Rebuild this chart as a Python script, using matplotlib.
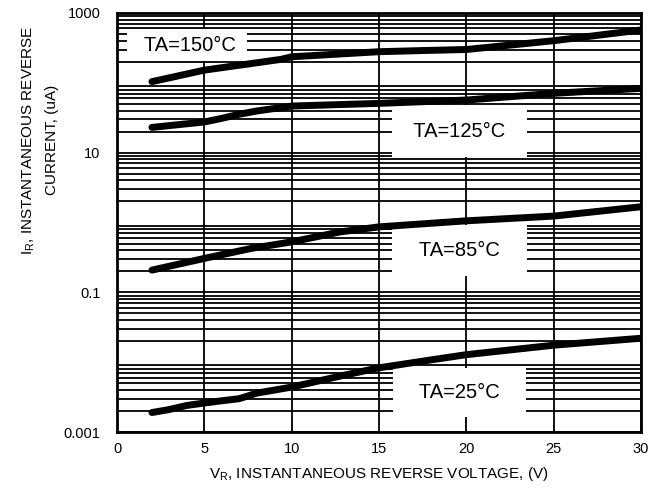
import matplotlib
matplotlib.use("Agg")
import matplotlib.pyplot as plt

plt.rcParams['font.family'] = ['Liberation Sans', 'DejaVu Sans']

# reverse voltage (V) and reverse current (uA)
v_25 = [2, 3, 4, 5, 6, 7, 8, 10, 13, 15, 18, 20, 25, 30]
i_25 = [0.0019, 0.0021, 0.0024, 0.0026, 0.0028, 0.0030, 0.0036, 0.0044,
        0.0065, 0.0083, 0.0108, 0.0128, 0.0175, 0.022]

v_85 = [2, 5, 7.7, 10, 12.8, 15, 20, 25, 30]
i_85 = [0.208, 0.306, 0.426, 0.528, 0.735, 0.866, 1.057, 1.235, 1.68]

v_125 = [2, 5, 6, 7, 8, 10, 15, 20, 25, 30]
i_125 = [23.0, 27.5, 31.0, 35.5, 39.5, 46.5, 50.8, 56.7, 70.7, 83.4]

v_150 = [2, 5, 9.4, 10, 15, 17.5, 20, 25, 30]
i_150 = [104, 152, 217, 236, 279, 290, 300, 401, 571]

curves = [(v_25, i_25), (v_85, i_85), (v_125, i_125), (v_150, i_150)]

# label text and where it sits (V, uA)
labels = ['  TA=150°C ', ' TA=125°C ', '  TA=85°C  ', '  TA=25°C  ']
label_x = [4.0, 19.6, 19.6, 19.6]
label_y = [348, 20.4, 0.40, 0.0037]
label_pad = [0.3, 0.8, 0.8, 0.75]

y_ticks = [0.001, 0.1, 10, 1000]
y_ticklabels = ['0.001', '0.1', '10', '1000']
x_ticks = [0, 5, 10, 15, 20, 25, 30]

fig = plt.figure(figsize=(6.65, 4.96), dpi=100)
ax = fig.add_axes([117 / 665, 1 - 432 / 496, 524 / 665, 419 / 496])

ax.set_yscale('log')
ax.set_xlim(0, 30)
ax.set_ylim(0.001, 1000)

# dense black grid, every minor decade step
ax.yaxis.set_minor_locator(matplotlib.ticker.LogLocator(base=10, subs=range(2, 10), numticks=20))
ax.yaxis.set_major_locator(matplotlib.ticker.LogLocator(base=10, numticks=20))
ax.grid(True, which='both', axis='y', color='black', lw=1.3, zorder=1)
ax.grid(True, which='major', axis='x', color='black', lw=1.3, zorder=1)

for v, i in curves:
    ax.plot(v, i, color='black', lw=5, solid_capstyle='round', zorder=4)

for txt, x, y, p in zip(labels, label_x, label_y, label_pad):
    ax.text(x, y, txt, ha='center', va='center', fontsize=14.5, zorder=3,
            bbox=dict(boxstyle='square,pad=%s' % p, facecolor='white', edgecolor='none'))

ax.set_xticks(x_ticks)
ax.set_xticklabels([str(x) for x in x_ticks])
ax.yaxis.set_major_formatter(matplotlib.ticker.NullFormatter())
ax.set_yticks(y_ticks)
ax.set_yticklabels(y_ticklabels)
ax.yaxis.set_minor_formatter(matplotlib.ticker.NullFormatter())
ax.tick_params(axis='both', which='both', length=0, labelsize=10.5)
ax.tick_params(axis='y', pad=12)
ax.tick_params(axis='x', pad=7)

for s in ax.spines.values():
    s.set_linewidth(2)
    s.set_zorder(5)

fig.text(0.5 * (117 + 641) / 665, 1 - 474 / 496,
         'V$_\\mathregular{R}$, INSTANTANEOUS REVERSE VOLTAGE, (V)',
         ha='center', va='center', fontsize=11)
fig.text(40 / 665, 1 - 140 / 496,
         'I$_\\mathregular{R}$, INSTANTANEOUS REVERSE\nCURRENT, (uA)',
         rotation=90, ha='center', va='center', ma='center',
         fontsize=11, linespacing=1.75)

fig.savefig('out.png', dpi=100)
